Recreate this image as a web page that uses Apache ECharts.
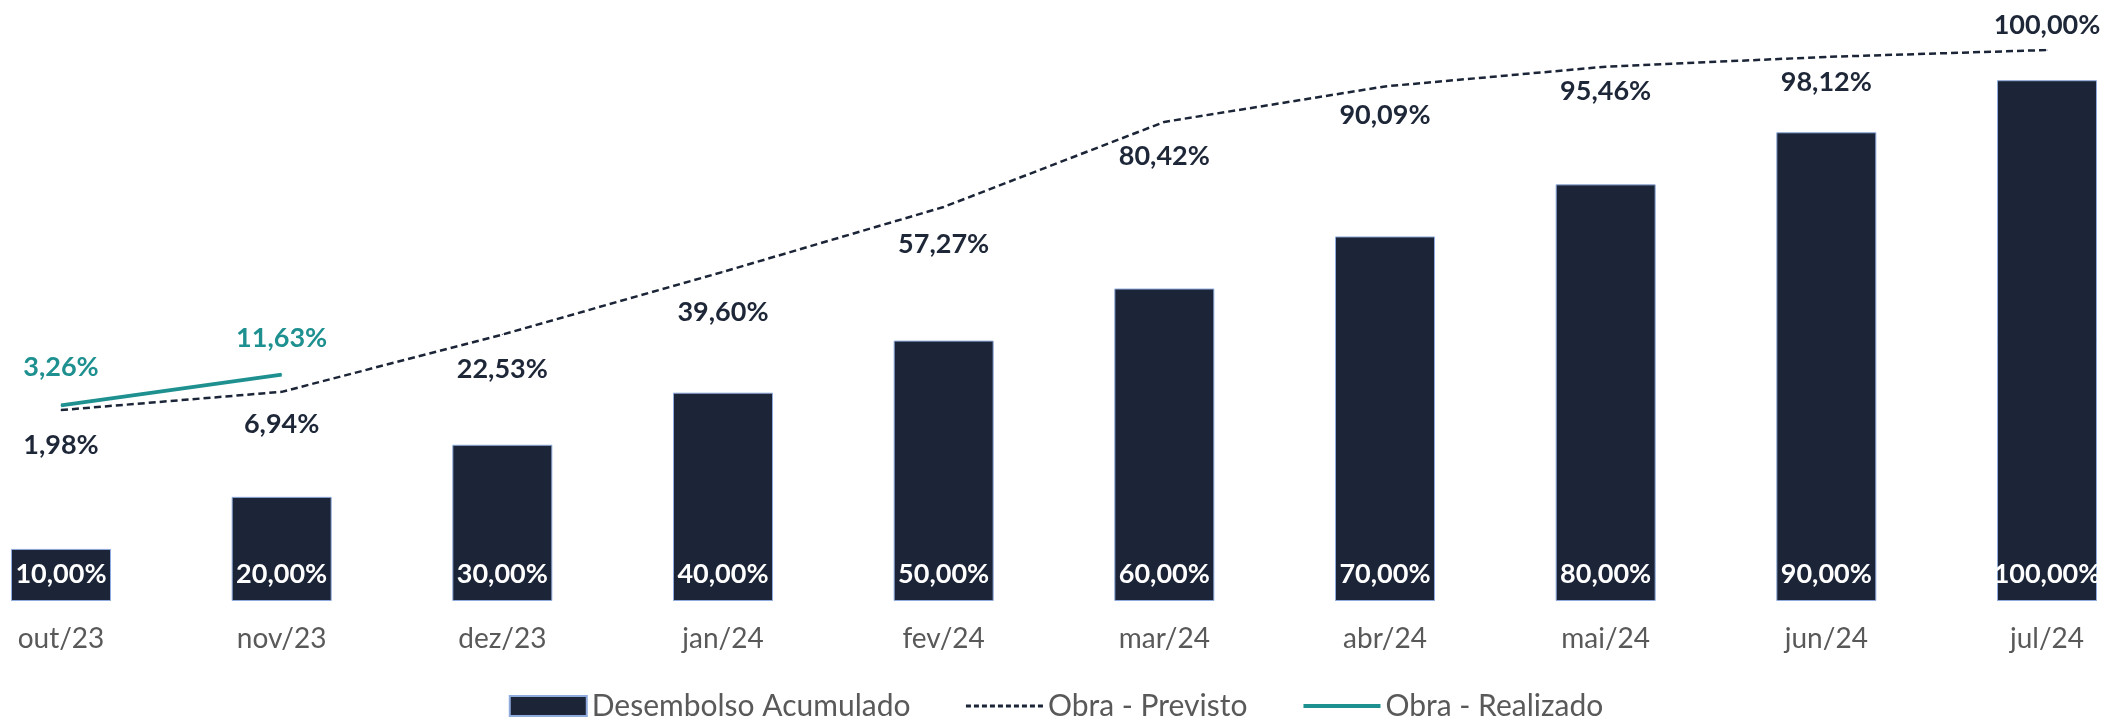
<!DOCTYPE html>
<html>
<head>
<meta charset="utf-8">
<script src="https://cdn.jsdelivr.net/npm/echarts@6/dist/echarts.min.js"></script>
<style>
  html, body { margin: 0; padding: 0; background: #fff; }
  #chart { width: 2112px; height: 717px; }
</style>
</head>
<body>
<div id="chart"></div>
<script>
// meses
var categorias = ['out/23', 'nov/23', 'dez/23', 'jan/24', 'fev/24', 'mar/24', 'abr/24', 'mai/24', 'jun/24', 'jul/24'];
// desembolso acumulado (%)
var desembolso = [10, 20, 30, 40, 50, 60, 70, 80, 90, 100];
// obra previsto (%)
var previsto = [1.98, 6.94, 22.53, 39.60, 57.27, 80.42, 90.09, 95.46, 98.12, 100.00];
// obra realizado (%)
var realizado = [3.26, 11.63, null, null, null, null, null, null, null, null];

// deslocamento vertical dos rótulos (posição)
var offPrevisto = [35, 32, 35, 40, 37, 34, 29, 25, 25, -25];
var offRealizado = [-38, -36];

var FONT = 'Lato';
var fmt = function (v) { return v.toFixed(2).replace('.', ',') + '%'; };

var chart = echarts.init(document.getElementById('chart'));

var option = {
  animation: false,
  textStyle: { fontFamily: FONT },
  // pontos nos ticks: primeiro mês em x=61, último em x=2047
  grid: { left: 61, right: 65, top: 50, bottom: 116, containLabel: false },
  legend: {
    top: 686,
    left: 'center',
    itemWidth: 77,
    itemHeight: 20,
    itemGap: 54,
    textStyle: { color: '#595959', fontSize: 30, fontFamily: FONT },
    data: [
      { name: 'Desembolso Acumulado', icon: 'rect' },
      { name: 'Obra - Previsto', itemStyle: { opacity: 0 }, lineStyle: { width: 3, type: [5, 3] } },
      { name: 'Obra - Realizado', itemStyle: { opacity: 0 }, lineStyle: { width: 4 } }
    ]
  },
  xAxis: {
    type: 'category',
    boundaryGap: false,
    data: categorias,
    axisLine: { show: false },
    axisTick: { show: false },
    axisLabel: { color: '#595959', fontSize: 28, margin: 24, fontFamily: FONT }
  },
  yAxis: [
    { type: 'value', min: 0, max: 105.8, show: false },
    { type: 'value', min: -50, max: 100, show: false }
  ],
  series: [
    {
      name: 'Desembolso Acumulado',
      type: 'bar',
      yAxisIndex: 0,
      barWidth: 100,
      clip: false,
      data: desembolso,
      itemStyle: { color: '#1B2537', borderColor: '#8FAADC', borderWidth: 1 },
      label: {
        show: true,
        position: 'insideBottom',
        distance: 13,
        color: '#fff',
        fontWeight: 'bold',
        fontSize: 27,
        fontFamily: FONT,
        formatter: function (p) { return fmt(p.value); }
      }
    },
    {
      name: 'Obra - Previsto',
      type: 'line',
      yAxisIndex: 1,
      symbol: 'circle',
      symbolSize: 1,
      color: '#1B2537',
      lineStyle: { color: '#1B2537', width: 2.5, type: [7, 4] },
      itemStyle: { color: '#1B2537' },
      data: previsto.map(function (v, i) {
        return { value: v, label: { offset: [0, offPrevisto[i]] } };
      }),
      label: {
        show: true,
        position: 'inside',
        color: '#1E2738',
        fontWeight: 'bold',
        fontSize: 27,
        fontFamily: FONT,
        formatter: function (p) { return fmt(p.value); }
      }
    },
    {
      name: 'Obra - Realizado',
      type: 'line',
      yAxisIndex: 1,
      symbol: 'circle',
      symbolSize: 1,
      color: '#1E9090',
      lineStyle: { color: '#1E9090', width: 4 },
      itemStyle: { color: '#1E9090' },
      data: realizado.map(function (v, i) {
        return v == null ? null : { value: v, label: { offset: [0, offRealizado[i]] } };
      }),
      label: {
        show: true,
        position: 'inside',
        color: '#1E9090',
        fontWeight: 'bold',
        fontSize: 27,
        fontFamily: FONT,
        formatter: function (p) { return p.value == null ? '' : fmt(p.value); }
      }
    }
  ]
};

chart.setOption(option);
</script>
</body>
</html>
